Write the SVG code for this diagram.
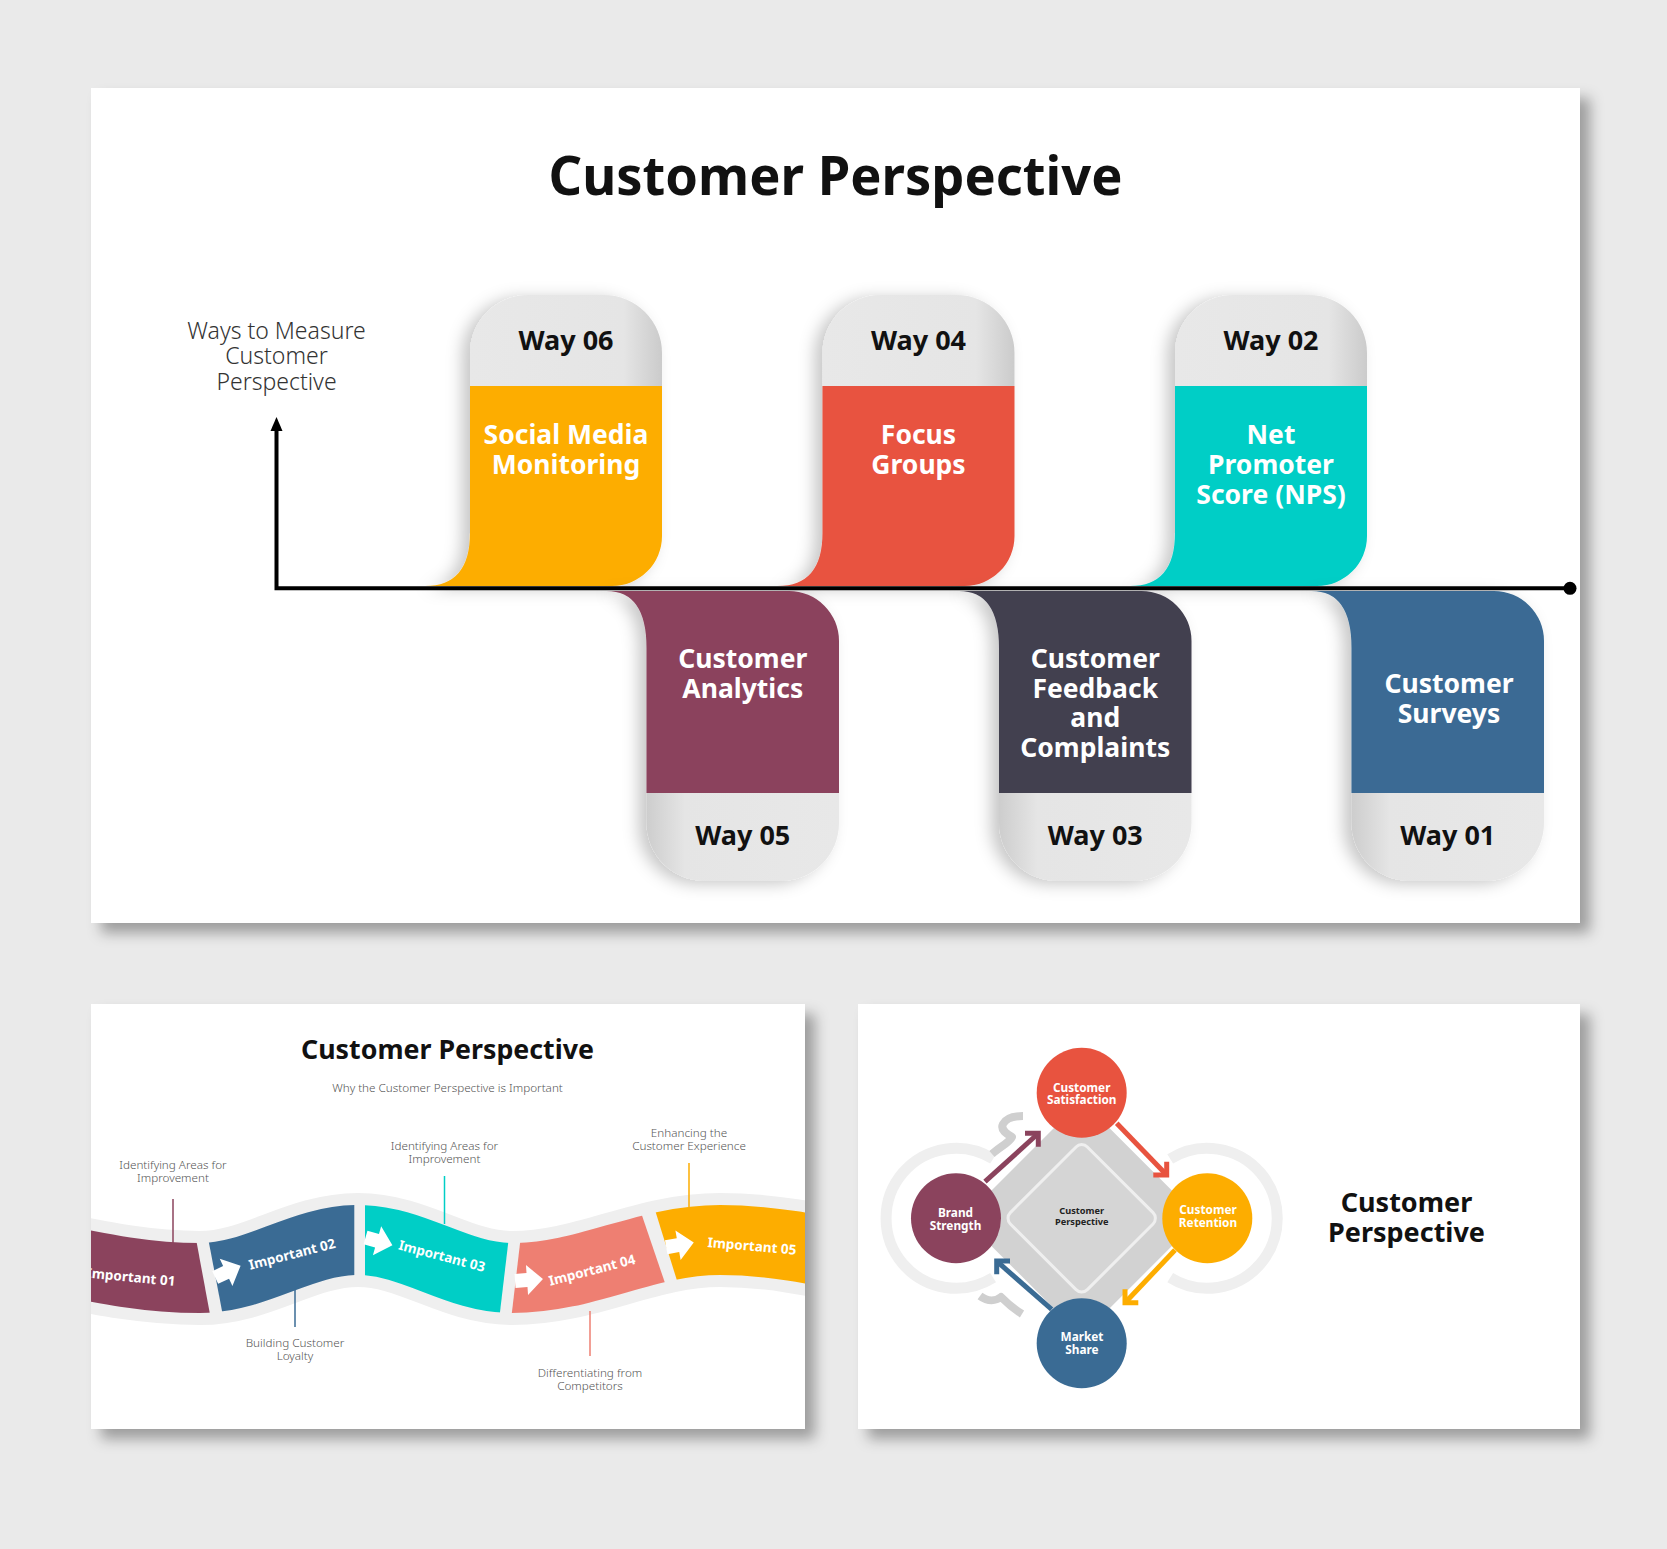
<svg xmlns="http://www.w3.org/2000/svg" xmlns:xlink="http://www.w3.org/1999/xlink" width="1667" height="1549" viewBox="0 0 1667 1549">
<style>
text{font-family:'Noto Sans','Open Sans','Liberation Sans',sans-serif}
.ttl{font-weight:700;fill:#111;text-anchor:middle}
.way{font-size:27px;font-weight:700;fill:#111;text-anchor:middle}
.body{font-size:26.5px;font-weight:700;fill:#fff;text-anchor:middle}
.axl{font-size:23px;font-weight:300;fill:#333;text-anchor:middle}
.lbl{font-size:11.7px;font-weight:300;fill:#555;text-anchor:middle}
.imp{font-size:13.5px;font-weight:700;fill:#fff;text-anchor:middle}
.circ{font-size:11.8px;font-weight:700;fill:#fff;text-anchor:middle}
.panel{fill:#fff;filter:url(#panelShadow)}
.tabT{fill:url(#tabTop)}
.tabB{fill:url(#tabBot)}
.band{fill:none;stroke-width:70}
.lead{stroke-width:1.5;fill:none}
.warr{fill:#fff}
.carr{fill:none;stroke-width:5;stroke-linecap:butt;stroke-linejoin:miter}
</style>
<defs>
<filter id="panelShadow" x="-5%" y="-5%" width="112%" height="115%">
<feDropShadow dx="10" dy="10" stdDeviation="7" flood-color="#000" flood-opacity="0.33"/>
</filter>
<filter id="cardShadow" x="-30%" y="-20%" width="150%" height="140%">
<feDropShadow dx="-8" dy="3" stdDeviation="8" flood-color="#000" flood-opacity="0.22"/>
</filter>
<linearGradient id="tabTop" x1="0" y1="0" x2="1" y2="0">
<stop offset="0" stop-color="#E8E8E8"/>
<stop offset="0.8" stop-color="#E5E5E5"/>
<stop offset="1" stop-color="#CBCBCB"/>
</linearGradient>
<linearGradient id="tabBot" x1="0" y1="0" x2="1" y2="0">
<stop offset="0" stop-color="#CDCDCD"/>
<stop offset="0.2" stop-color="#E5E5E5"/>
<stop offset="1" stop-color="#E8E8E8"/>
</linearGradient>
<clipPath id="p2clip"><rect x="91" y="1004" width="714" height="425"/></clipPath>
<clipPath id="cs1"><polygon points="0,1150 179.5,1150 216.6,1350 0,1350"/></clipPath>
<clipPath id="cs2"><polygon points="191.2,1150 354.3,1150 354.3,1350 229.5,1350"/></clipPath>
<clipPath id="cs3"><polygon points="365,1150 519.2,1150 495.5,1350 365,1350"/></clipPath>
<clipPath id="cs4"><polygon points="531,1150 619.7,1150 687.8,1350 507.5,1350"/></clipPath>
<clipPath id="cs5"><polygon points="636.3,1150 900,1150 900,1350 698.6,1350"/></clipPath>
<path id="wave" d="M-90,1240 C15,1240 95,1278 200,1278 C257,1278 301,1240 358,1240 C414,1240 456,1278 512,1278 C588,1278 644,1240 720,1240 C822,1240 898,1278 1000,1278"/>
<path id="warrow" d="M-13,-7 H-1 V-15 L15,0 L-1,15 V7 H-13 Z"/>
</defs>

<rect x="0" y="0" width="1667" height="1549" fill="#EAEAEA"/>

<!-- ===== Top panel ===== -->
<rect class="panel" x="91" y="88" width="1489" height="835"/>
<text class="ttl" x="835.5" y="195" font-size="54" textLength="574" lengthAdjust="spacingAndGlyphs">Customer Perspective</text>
<text class="axl" x="276.5" y="339">Ways to Measure</text>
<text class="axl" x="276.5" y="364">Customer</text>
<text class="axl" x="276.5" y="390">Perspective</text>

<g id="way06">
<g filter="url(#cardShadow)">
<path class="tabT" d="M470,386 V353 A58,58 0 0 1 528,295 H604 A58,58 0 0 1 662,353 V386 Z"/>
<path fill="#FDAD00" d="M470,386 H662 V536 A50,50 0 0 1 612,586 H425 Q470,586 470,533 Z"/>
</g>
<text class="way" x="566" y="350">Way 06</text>
<text class="body"><tspan x="566" y="444">Social Media</tspan><tspan x="566" y="474">Monitoring</tspan></text>
</g>

<g id="way04">
<g filter="url(#cardShadow)">
<path class="tabT" d="M822.5,386 V353 A58,58 0 0 1 880.5,295 H956.5 A58,58 0 0 1 1014.5,353 V386 Z"/>
<path fill="#E8533F" d="M822.5,386 H1014.5 V536 A50,50 0 0 1 964.5,586 H777.5 Q822.5,586 822.5,533 Z"/>
</g>
<text class="way" x="918.5" y="350">Way 04</text>
<text class="body"><tspan x="918.5" y="444">Focus</tspan><tspan x="918.5" y="474">Groups</tspan></text>
</g>

<g id="way02">
<g filter="url(#cardShadow)">
<path class="tabT" d="M1175,386 V353 A58,58 0 0 1 1233,295 H1309 A58,58 0 0 1 1367,353 V386 Z"/>
<path fill="#00CEC6" d="M1175,386 H1367 V536 A50,50 0 0 1 1317,586 H1130 Q1175,586 1175,533 Z"/>
</g>
<text class="way" x="1271" y="350">Way 02</text>
<text class="body"><tspan x="1271" y="444">Net</tspan><tspan x="1271" y="474">Promoter</tspan><tspan x="1271" y="504">Score (NPS)</tspan></text>
</g>

<g id="way05">
<g filter="url(#cardShadow)">
<path fill="#8B435D" d="M606.5,591 H789 A50,50 0 0 1 839,641 V793 H646.5 V648 Q646.5,591 606.5,591 Z"/>
<path class="tabB" d="M646.5,793 H839 V823 A58,58 0 0 1 781,881 H704.5 A58,58 0 0 1 646.5,823 Z"/>
</g>
<text class="body"><tspan x="742.75" y="667.5">Customer</tspan><tspan x="742.75" y="697.5">Analytics</tspan></text>
<text class="way" x="742.75" y="845">Way 05</text>
</g>

<g id="way03">
<g filter="url(#cardShadow)">
<path fill="#423F4F" d="M959,591 H1141.5 A50,50 0 0 1 1191.5,641 V793 H999 V648 Q999,591 959,591 Z"/>
<path class="tabB" d="M999,793 H1191.5 V823 A58,58 0 0 1 1133.5,881 H1057 A58,58 0 0 1 999,823 Z"/>
</g>
<text class="body"><tspan x="1095.25" y="667.5">Customer</tspan><tspan x="1095.25" y="697.5">Feedback</tspan><tspan x="1095.25" y="727">and</tspan><tspan x="1095.25" y="756.5">Complaints</tspan></text>
<text class="way" x="1095.25" y="845">Way 03</text>
</g>

<g id="way01">
<g filter="url(#cardShadow)">
<path fill="#3A6B94" d="M1311.5,591 H1494 A50,50 0 0 1 1544,641 V793 H1351.5 V648 Q1351.5,591 1311.5,591 Z"/>
<path class="tabB" d="M1351.5,793 H1544 V823 A58,58 0 0 1 1486,881 H1409.5 A58,58 0 0 1 1351.5,823 Z"/>
</g>
<text class="body"><tspan x="1449" y="693">Customer</tspan><tspan x="1449" y="723">Surveys</tspan></text>
<text class="way" x="1447.75" y="845">Way 01</text>
</g>

<g id="axes">
<path d="M276.5,429 V588.3 H1570" fill="none" stroke="#000" stroke-width="4"/>
<polygon points="276.5,417 270.5,431 282.5,431" fill="#000"/>
<circle cx="1570" cy="588.3" r="6.5" fill="#000"/>
</g>

<!-- ===== Bottom-left panel ===== -->
<rect class="panel" x="91" y="1004" width="714" height="425"/>
<text class="ttl" x="447.5" y="1059" font-size="27" textLength="293" lengthAdjust="spacingAndGlyphs">Customer Perspective</text>
<text class="lbl" x="447.5" y="1092" font-size="11.8">Why the Customer Perspective is Important</text>

<g clip-path="url(#p2clip)">
<use href="#wave" xlink:href="#wave" fill="none" stroke="#EFEFEF" stroke-width="94"/>
<g id="imp01" clip-path="url(#cs1)"><use href="#wave" xlink:href="#wave" class="band" stroke="#8B435D"/></g>
<g id="imp02" clip-path="url(#cs2)"><use href="#wave" xlink:href="#wave" class="band" stroke="#3A6B94"/></g>
<g id="imp03" clip-path="url(#cs3)"><use href="#wave" xlink:href="#wave" class="band" stroke="#00CEC6"/></g>
<g id="imp04" clip-path="url(#cs4)"><use href="#wave" xlink:href="#wave" class="band" stroke="#EE7F72"/></g>
<g id="imp05" clip-path="url(#cs5)"><use href="#wave" xlink:href="#wave" class="band" stroke="#FDAD00"/></g>
<use href="#warrow" xlink:href="#warrow" class="warr" transform="translate(227,1272) rotate(-25)"/>
<use href="#warrow" xlink:href="#warrow" class="warr" transform="translate(378,1241) rotate(16)"/>
<use href="#warrow" xlink:href="#warrow" class="warr" transform="translate(528,1280) rotate(-4)"/>
<use href="#warrow" xlink:href="#warrow" class="warr" transform="translate(679,1245) rotate(-10)"/>
<text class="imp" transform="translate(131,1277) rotate(5.5)" x="0" y="4.8">Important 01</text>
<text class="imp" transform="translate(292,1254) rotate(-14.5)" x="0" y="4.8">Important 02</text>
<text class="imp" transform="translate(442,1256) rotate(14.8)" x="0" y="4.8">Important 03</text>
<text class="imp" transform="translate(592,1270) rotate(-14.6)" x="0" y="4.8">Important 04</text>
<text class="imp" transform="translate(752,1246) rotate(5)" x="0" y="4.8">Important 05</text>
</g>

<g id="leaders">
<line class="lead" x1="173" y1="1199" x2="173" y2="1243" stroke="#8B435D"/>
<line class="lead" x1="295" y1="1287" x2="295" y2="1327" stroke="#3A6B94"/>
<line class="lead" x1="444.5" y1="1176" x2="444.5" y2="1224" stroke="#00CEC6"/>
<line class="lead" x1="590" y1="1311" x2="590" y2="1356" stroke="#EE7F72"/>
<line class="lead" x1="689" y1="1163" x2="689" y2="1207" stroke="#FDAD00"/>
</g>
<text class="lbl"><tspan x="173" y="1169">Identifying Areas for</tspan><tspan x="173" y="1182">Improvement</tspan></text>
<text class="lbl"><tspan x="295" y="1347">Building Customer</tspan><tspan x="295" y="1360">Loyalty</tspan></text>
<text class="lbl"><tspan x="444.5" y="1150">Identifying Areas for</tspan><tspan x="444.5" y="1163">Improvement</tspan></text>
<text class="lbl"><tspan x="590" y="1376.5">Differentiating from</tspan><tspan x="590" y="1389.5">Competitors</tspan></text>
<text class="lbl"><tspan x="689" y="1137">Enhancing the</tspan><tspan x="689" y="1150">Customer Experience</tspan></text>

<!-- ===== Bottom-right panel ===== -->
<rect class="panel" x="858" y="1004" width="722" height="425"/>
<g id="rings" fill="none" stroke="#EFEFEF" stroke-width="11">
<path d="M993.1,1158.9 A70,70 0 1 0 993.1,1277.7"/>
<path d="M1170.2,1158.9 A70,70 0 1 1 1170.2,1277.7"/>
</g>
<g id="hooks" fill="none" stroke="#CFCFCF" stroke-width="8" stroke-linecap="butt" stroke-linejoin="round">
<path d="M992,1154 C1000,1147 1010,1142 1012,1137 C1007,1134 1000,1130 1003,1124 C1006,1118 1014,1116 1023,1116"/>
<path d="M980,1296 C988,1302 996,1301 1001,1297 C1007,1303 1014,1309 1022,1314"/>
</g>
<g id="center">
<rect x="-83.4" y="-83.4" width="166.8" height="166.8" rx="12" fill="#D2D2D2" transform="translate(1081.7,1218.3) rotate(45)"/>
<rect x="-54.45" y="-54.45" width="108.9" height="108.9" rx="8" fill="#D5D5D5" stroke="#EFEFEF" stroke-width="3" transform="translate(1081.7,1218.3) rotate(45)"/>
<text x="1081.7" y="1214" font-size="9.2" font-weight="700" fill="#222" text-anchor="middle">Customer</text>
<text x="1081.7" y="1224.5" font-size="9.2" font-weight="700" fill="#222" text-anchor="middle">Perspective</text>
</g>
<g id="cycle-arrows">
<path class="carr" stroke="#8B435D" d="M985,1181.7 L1036.5,1135"/>
<path class="carr" stroke="#8B435D" d="M1025,1133.3 H1038.3 V1146.7"/>
<path class="carr" stroke="#E8533F" d="M1116.7,1123.3 L1165,1173.3"/>
<path class="carr" stroke="#E8533F" d="M1166.7,1161.7 V1175 H1153.3"/>
<path class="carr" stroke="#FDAD00" d="M1175,1250 L1126.7,1301"/>
<path class="carr" stroke="#FDAD00" d="M1125,1289.3 V1302.7 H1138.3"/>
<path class="carr" stroke="#3A6B94" d="M1051.7,1309.3 L998.4,1262.7"/>
<path class="carr" stroke="#3A6B94" d="M1010,1261 H996.7 V1274.3"/>
</g>
<g id="satisfaction">
<circle cx="1081.7" cy="1092.7" r="45" fill="#E8533F"/>
<text class="circ"><tspan x="1081.7" y="1091.7">Customer</tspan><tspan x="1081.7" y="1104.3">Satisfaction</tspan></text>
</g>
<g id="retention">
<circle cx="1207.3" cy="1218.3" r="45" fill="#FDAD00"/>
<text class="circ"><tspan x="1208" y="1214">Customer</tspan><tspan x="1208" y="1226.7">Retention</tspan></text>
</g>
<g id="brand">
<circle cx="956" cy="1218.3" r="45" fill="#8B435D"/>
<text class="circ"><tspan x="955.5" y="1216.7">Brand</tspan><tspan x="955.5" y="1230">Strength</tspan></text>
</g>
<g id="market">
<circle cx="1081.7" cy="1343.3" r="45" fill="#3A6B94"/>
<text class="circ"><tspan x="1082" y="1340.7">Market</tspan><tspan x="1082" y="1354">Share</tspan></text>
</g>
<text class="ttl" font-size="27"><tspan x="1406.5" y="1212">Customer</tspan><tspan x="1406.5" y="1242">Perspective</tspan></text>
</svg>
